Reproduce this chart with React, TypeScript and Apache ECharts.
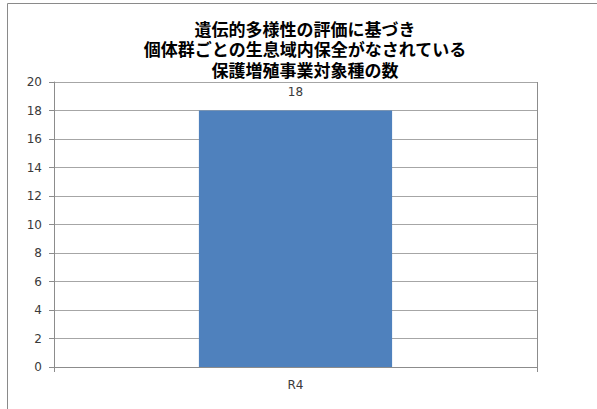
import React, { useEffect, useRef } from "react";
import * as echarts from "echarts";

const titleLines = [
  "遺伝的多様性の評価に基づき",
  "個体群ごとの生息域内保全がなされている",
  "保護増殖事業対象種の数",
];
const categories = ["R4"];
const values = [18];
const yMin = 0;
const yMax = 20;
const yInterval = 2;

export default function App() {
  const ref = useRef<HTMLDivElement>(null);
  useEffect(() => {
    if (!ref.current) return;
    const chart = echarts.init(ref.current, null, { renderer: "svg" });
    const axisGray = "#8c8c8c";
    const titleTexts = titleLines.map((line, i) => ({
      type: "text",
      x: 305,
      y: 30 + i * 20.5,
      silent: true,
      style: {
        text: line,
        textAlign: "center",
        textVerticalAlign: "middle",
        fontFamily: "'Liberation Sans', 'Noto Sans CJK JP', sans-serif",
        fontSize: 17,
        lineHeight: 19,
        fontWeight: "bold",
        fill: "#000000",
      },
    }));
    chart.setOption({
      animation: false,
      backgroundColor: "#ffffff",
      graphic: [
        {
          type: "rect",
          shape: { x: 7.5, y: 3.5, width: 700, height: 500 },
          style: { fill: "none", stroke: "#8a8a8a", lineWidth: 1 },
          silent: true,
        },
        ...titleTexts,
      ],
      grid: { left: 54, right: 60, top: 82, bottom: 42, containLabel: false },
      xAxis: {
        type: "category",
        data: categories,
        boundaryGap: true,
        axisLine: { show: true, lineStyle: { color: axisGray, width: 1 } },
        axisTick: { show: true, length: 5, alignWithLabel: false, lineStyle: { color: axisGray } },
        axisLabel: {
          margin: 12,
          fontFamily: "DejaVu Sans",
          fontSize: 12,
          color: "#3a3a3a",
        },
        splitLine: { show: true, lineStyle: { color: axisGray, width: 1 } },
      },
      yAxis: {
        type: "value",
        min: yMin,
        max: yMax,
        interval: yInterval,
        axisLine: { show: true, lineStyle: { color: axisGray, width: 1 } },
        axisTick: { show: true, length: 5, lineStyle: { color: axisGray } },
        axisLabel: {
          margin: 12,
          fontFamily: "DejaVu Sans",
          fontSize: 12,
          color: "#3a3a3a",
        },
        splitLine: { show: true, lineStyle: { color: "#a6a6a6", width: 1 } },
      },
      series: [
        {
          type: "bar",
          data: values,
          barWidth: "40%",
          itemStyle: { color: "#4f81bd" },
          label: {
            show: true,
            position: "top",
            distance: 13,
            fontFamily: "DejaVu Sans",
            fontSize: 12,
            color: "#3a3a3a",
          },
        },
      ],
    });
    return () => chart.dispose();
  }, []);
  return (
    <div
      ref={ref}
      style={{ position: "fixed", left: 0, top: 0, width: 597, height: 409 }}
    />
  );
}
